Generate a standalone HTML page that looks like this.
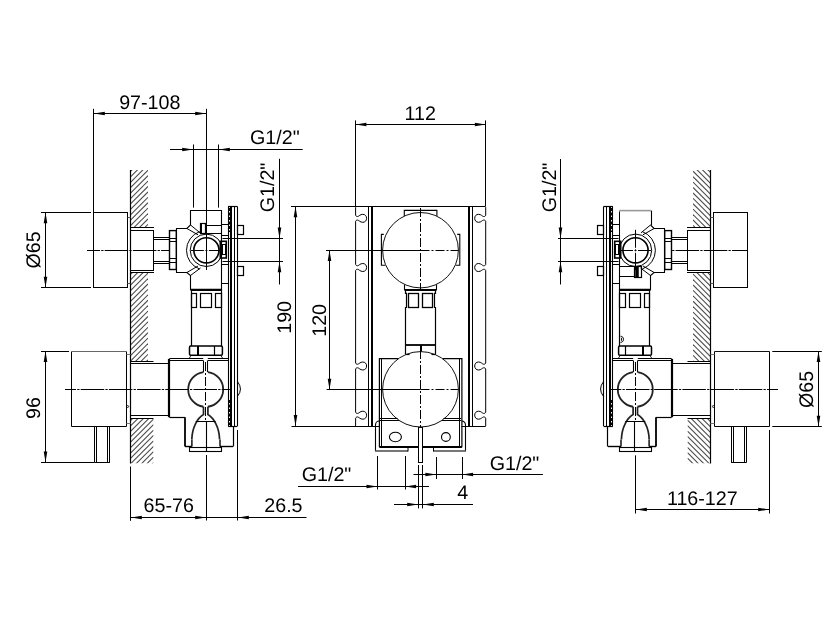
<!DOCTYPE html>
<html><head><meta charset="utf-8"><title>Drawing</title>
<style>html,body{margin:0;padding:0;background:#fff}svg{display:block;will-change:transform;opacity:.999}text{font-family:"Liberation Sans",sans-serif;fill:#000;text-rendering:geometricPrecision}</style></head><body>
<svg width="831" height="627" viewBox="0 0 831 627">
<rect width="831" height="627" fill="#fff"/>
<g id="left">
<clipPath id="hcL1"><rect x="130.5" y="170" width="17.5" height="57.6"/></clipPath>
<g clip-path="url(#hcL1)" stroke="#484848" stroke-width="1.05">
<line x1="130.5" y1="171.48" x2="148" y2="153.98"/>
<line x1="130.5" y1="176.9" x2="148" y2="159.4"/>
<line x1="130.5" y1="182.31" x2="148" y2="164.81"/>
<line x1="130.5" y1="187.73" x2="148" y2="170.23"/>
<line x1="130.5" y1="193.14" x2="148" y2="175.64"/>
<line x1="130.5" y1="198.56" x2="148" y2="181.06"/>
<line x1="130.5" y1="203.97" x2="148" y2="186.47"/>
<line x1="130.5" y1="209.39" x2="148" y2="191.89"/>
<line x1="130.5" y1="214.8" x2="148" y2="197.3"/>
<line x1="130.5" y1="220.22" x2="148" y2="202.72"/>
<line x1="130.5" y1="225.63" x2="148" y2="208.13"/>
<line x1="130.5" y1="231.05" x2="148" y2="213.55"/>
<line x1="130.5" y1="236.46" x2="148" y2="218.96"/>
<line x1="130.5" y1="241.88" x2="148" y2="224.38"/>
<line x1="130.5" y1="247.29" x2="148" y2="229.79"/>
</g>
<clipPath id="hcL2"><rect x="130.5" y="272.5" width="17.5" height="89"/></clipPath>
<g clip-path="url(#hcL2)" stroke="#484848" stroke-width="1.05">
<line x1="130.5" y1="274.37" x2="148" y2="256.87"/>
<line x1="130.5" y1="279.78" x2="148" y2="262.28"/>
<line x1="130.5" y1="285.2" x2="148" y2="267.7"/>
<line x1="130.5" y1="290.61" x2="148" y2="273.11"/>
<line x1="130.5" y1="296.03" x2="148" y2="278.53"/>
<line x1="130.5" y1="301.44" x2="148" y2="283.94"/>
<line x1="130.5" y1="306.86" x2="148" y2="289.36"/>
<line x1="130.5" y1="312.28" x2="148" y2="294.78"/>
<line x1="130.5" y1="317.69" x2="148" y2="300.19"/>
<line x1="130.5" y1="323.11" x2="148" y2="305.61"/>
<line x1="130.5" y1="328.52" x2="148" y2="311.02"/>
<line x1="130.5" y1="333.94" x2="148" y2="316.44"/>
<line x1="130.5" y1="339.35" x2="148" y2="321.85"/>
<line x1="130.5" y1="344.77" x2="148" y2="327.27"/>
<line x1="130.5" y1="350.18" x2="148" y2="332.68"/>
<line x1="130.5" y1="355.6" x2="148" y2="338.1"/>
<line x1="130.5" y1="361.01" x2="148" y2="343.51"/>
<line x1="130.5" y1="366.43" x2="148" y2="348.93"/>
<line x1="130.5" y1="371.84" x2="148" y2="354.34"/>
<line x1="130.5" y1="377.26" x2="148" y2="359.76"/>
<line x1="130.5" y1="382.67" x2="148" y2="365.17"/>
</g>
<clipPath id="hcL3"><rect x="130.5" y="418" width="23" height="45.3"/></clipPath>
<g clip-path="url(#hcL3)" stroke="#484848" stroke-width="1.05">
<line x1="130.5" y1="420.58" x2="153.5" y2="397.58"/>
<line x1="130.5" y1="425.99" x2="153.5" y2="402.99"/>
<line x1="130.5" y1="431.41" x2="153.5" y2="408.41"/>
<line x1="130.5" y1="436.82" x2="153.5" y2="413.82"/>
<line x1="130.5" y1="442.24" x2="153.5" y2="419.24"/>
<line x1="130.5" y1="447.65" x2="153.5" y2="424.65"/>
<line x1="130.5" y1="453.07" x2="153.5" y2="430.07"/>
<line x1="130.5" y1="458.48" x2="153.5" y2="435.48"/>
<line x1="130.5" y1="463.9" x2="153.5" y2="440.9"/>
<line x1="130.5" y1="469.31" x2="153.5" y2="446.31"/>
<line x1="130.5" y1="474.73" x2="153.5" y2="451.73"/>
<line x1="130.5" y1="480.14" x2="153.5" y2="457.14"/>
<line x1="130.5" y1="485.56" x2="153.5" y2="462.56"/>
<line x1="130.5" y1="490.97" x2="153.5" y2="467.97"/>
</g>
<line x1="130.5" y1="170" x2="130.5" y2="463.5" stroke="#000" stroke-width="1.2" />
<rect x="93.5" y="212.5" width="34" height="75" fill="none" stroke="#000" stroke-width="1"/>
<path d="M127.5,217.5H130.5M127.5,283.5H130.5" fill="none" stroke="#555" stroke-width="1" />
<line x1="130.5" y1="227.5" x2="154" y2="227.5" stroke="#000" stroke-width="1" />
<line x1="130.5" y1="272.5" x2="154" y2="272.5" stroke="#000" stroke-width="1" />
<rect x="130.5" y="230.5" width="23" height="40" fill="none" stroke="#000" stroke-width="1"/>
<line x1="153.5" y1="237.5" x2="169.5" y2="237.5" stroke="#000" stroke-width="1" />
<line x1="153.5" y1="239.5" x2="169.5" y2="239.5" stroke="#000" stroke-width="1" />
<line x1="153.5" y1="261.5" x2="169.5" y2="261.5" stroke="#000" stroke-width="1" />
<line x1="153.5" y1="263.5" x2="169.5" y2="263.5" stroke="#000" stroke-width="1" />
<rect x="169.5" y="230.6" width="6.8" height="38.9" fill="none" stroke="#000" stroke-width="1.4"/>
<line x1="169.5" y1="238.5" x2="176.3" y2="238.5" stroke="#000" stroke-width="1" />
<line x1="169.5" y1="241.5" x2="176.3" y2="241.5" stroke="#000" stroke-width="1" />
<line x1="169.5" y1="258.5" x2="176.3" y2="258.5" stroke="#000" stroke-width="1" />
<line x1="169.5" y1="262.5" x2="176.3" y2="262.5" stroke="#000" stroke-width="1" />
<line x1="87" y1="250.5" x2="169.5" y2="250.5" stroke="#000" stroke-width="1" stroke-dasharray="23.5 1.2 2.3 1.2" stroke-dashoffset="10.5"/>
<path d="M176.5,228.5 L186.9,228.5 L190.5,225 L190.5,210.5 L221.5,210.5 L221.5,289.4 L190.5,289.4 L190.5,275.5 L186.9,272.5 L176.5,272.5Z" fill="none" stroke="#000" stroke-width="1.1" />
<line x1="190.5" y1="290" x2="221.5" y2="290" stroke="#000" stroke-width="2" />
<line x1="190.5" y1="225" x2="200" y2="232.8" stroke="#000" stroke-width="1" />
<line x1="186.9" y1="228.5" x2="198" y2="234.8" stroke="#000" stroke-width="1" />
<line x1="186.9" y1="272.5" x2="198" y2="266" stroke="#000" stroke-width="1" />
<line x1="190.5" y1="275.5" x2="200.5" y2="268" stroke="#000" stroke-width="1" />
<circle cx="206.4" cy="250.3" r="12.6" fill="none" stroke="#000" stroke-width="1.6"/>
<circle cx="206.4" cy="250.3" r="16.2" fill="none" stroke="#000" stroke-width="1"/>
<path d="M199.6,231.6A19.9 19.9 0 0 0 199.6,269" fill="none" stroke="#000" stroke-width="1" />
<line x1="190.9" y1="250.5" x2="203.9" y2="250.5" stroke="#000" stroke-width="1" />
<line x1="205.4" y1="250.5" x2="207.4" y2="250.5" stroke="#000" stroke-width="1" />
<line x1="208.9" y1="250.5" x2="221.9" y2="250.5" stroke="#000" stroke-width="1" />
<rect x="200.5" y="223.5" width="5" height="10" fill="none" stroke="#000" stroke-width="1.2"/>
<line x1="201" y1="223.5" x2="201" y2="233.8" stroke="#000" stroke-width="2" />
<rect x="205.5" y="225.5" width="16" height="8" fill="none" stroke="#000" stroke-width="1"/>
<line x1="206.5" y1="108.8" x2="206.5" y2="270" stroke="#000" stroke-width="1" />
<rect x="221.5" y="224.5" width="7" height="11" fill="none" stroke="#000" stroke-width="1"/>
<rect x="221.5" y="264.5" width="7" height="19" fill="none" stroke="#000" stroke-width="1"/>
<rect x="220.3" y="241.3" width="6" height="16.7" fill="none" stroke="#000" stroke-width="1.6"/>
<rect x="222.5" y="244.5" width="3" height="10" fill="none" stroke="#000" stroke-width="1"/>
<line x1="228.5" y1="206.5" x2="228.5" y2="426" stroke="#000" stroke-width="1.1" />
<line x1="231" y1="206.5" x2="231" y2="426" stroke="#000" stroke-width="2" />
<line x1="234.5" y1="206.5" x2="234.5" y2="426" stroke="#000" stroke-width="1" />
<line x1="237.5" y1="206.5" x2="237.5" y2="426" stroke="#000" stroke-width="1.1" />
<line x1="228.1" y1="206.5" x2="237.4" y2="206.5" stroke="#000" stroke-width="1.2" />
<line x1="228.1" y1="426.5" x2="237.4" y2="426.5" stroke="#000" stroke-width="1.2" />
<line x1="229.5" y1="208" x2="229.5" y2="232" stroke="#000" stroke-width="1.2" stroke-dasharray="3 1.5"/>
<line x1="229.5" y1="400" x2="229.5" y2="425" stroke="#000" stroke-width="1.2" stroke-dasharray="3 1.5"/>
<rect x="237.5" y="225.5" width="6" height="9" fill="none" stroke="#000" stroke-width="1.2"/>
<rect x="237.5" y="266.5" width="6" height="9" fill="none" stroke="#000" stroke-width="1.2"/>
<line x1="222.5" y1="238.5" x2="283" y2="238.5" stroke="#000" stroke-width="1" />
<line x1="222.5" y1="261.5" x2="283" y2="261.5" stroke="#000" stroke-width="1" />
<line x1="191.5" y1="289.4" x2="191.5" y2="346" stroke="#000" stroke-width="1.2" />
<line x1="221.5" y1="289.4" x2="221.5" y2="346" stroke="#000" stroke-width="1.2" />
<rect x="191.5" y="293.5" width="5" height="14" fill="none" stroke="#000" stroke-width="1.2"/>
<rect x="200.5" y="293.5" width="11" height="14" fill="none" stroke="#000" stroke-width="1.2"/>
<rect x="215.5" y="293.5" width="6" height="14" fill="none" stroke="#000" stroke-width="1.2"/>
<rect x="189.5" y="346.1" width="32.9" height="9.2" rx="1.2" fill="none" stroke="#000" stroke-width="1.5"/>
<line x1="198" y1="346" x2="198" y2="355.4" stroke="#000" stroke-width="2" />
<line x1="214.5" y1="346" x2="214.5" y2="355.4" stroke="#000" stroke-width="1.2" />
<path d="M189.5,357.9L190.6,356.2M222.4,357.9L221.3,356.2" fill="none" stroke="#000" stroke-width="1" />
<line x1="169.4" y1="358.5" x2="203.2" y2="358.5" stroke="#000" stroke-width="1" />
<line x1="207.8" y1="358.5" x2="228.1" y2="358.5" stroke="#000" stroke-width="1" />
<line x1="169.4" y1="360.5" x2="203.2" y2="360.5" stroke="#000" stroke-width="1" />
<line x1="207.8" y1="360.5" x2="228.1" y2="360.5" stroke="#000" stroke-width="1" />
<line x1="169" y1="358.9" x2="169" y2="417.2" stroke="#000" stroke-width="2.2" />
<line x1="130.5" y1="415.5" x2="169.4" y2="415.5" stroke="#000" stroke-width="1" />
<line x1="130.5" y1="363.5" x2="169.4" y2="363.5" stroke="#000" stroke-width="1" />
<line x1="169.4" y1="417.5" x2="185" y2="417.5" stroke="#000" stroke-width="1.2" />
<line x1="185" y1="417.2" x2="185" y2="446.5" stroke="#000" stroke-width="1.8" />
<line x1="185" y1="446.5" x2="191.9" y2="446.5" stroke="#000" stroke-width="1.4" />
<line x1="191.9" y1="439.4" x2="191.9" y2="446.5" stroke="#000" stroke-width="1.4" />
<line x1="220" y1="439.4" x2="220" y2="446.5" stroke="#000" stroke-width="1.4" />
<line x1="220" y1="446.5" x2="233.1" y2="446.5" stroke="#000" stroke-width="1.4" />
<line x1="233.5" y1="426" x2="233.5" y2="446.5" stroke="#000" stroke-width="1.2" />
<rect x="189.5" y="447.5" width="32" height="4" fill="none" stroke="#000" stroke-width="1.1"/>
<path d="M191.8,439.4C192.2,427 197.7,418 203.5,414.6V406.76" fill="none" stroke="#222" stroke-width="1.7" />
<path d="M219.6,439.4C219.2,427 213.7,418 207.9,414.6V406.76" fill="none" stroke="#222" stroke-width="1.7" />
<line x1="195.7" y1="421.5" x2="215.7" y2="421.5" stroke="#000" stroke-width="1" />
<line x1="206.5" y1="421.3" x2="206.5" y2="451.9" stroke="#000" stroke-width="1.1" />
<path d="M203.5,372.04A17.5 17.5 0 0 0 203.5,406.76M207.9,372.04A17.5 17.5 0 0 1 207.9,406.76" fill="none" stroke="#222" stroke-width="1.8" />
<line x1="203.5" y1="360.5" x2="203.5" y2="372.04" stroke="#000" stroke-width="1.1" />
<line x1="207.5" y1="360.5" x2="207.5" y2="372.04" stroke="#000" stroke-width="1.1" />
<line x1="205.5" y1="362" x2="205.5" y2="420" stroke="#000" stroke-width="1" stroke-dasharray="9 2 2 2"/>
<line x1="65" y1="389.5" x2="231" y2="389.5" stroke="#000" stroke-width="1" stroke-dasharray="23.5 1.2 2.3 1.2" stroke-dashoffset="12.5"/>
<line x1="130.5" y1="361.5" x2="153.5" y2="361.5" stroke="#000" stroke-width="1" />
<line x1="130.5" y1="418.5" x2="153.5" y2="418.5" stroke="#000" stroke-width="1" />
<path d="M71.5,351.5V426.5H126.5V351.5" fill="none" stroke="#000" stroke-width="1" />
<line x1="71.5" y1="351.5" x2="126.5" y2="351.5" stroke="#666" stroke-width="1" />
<path d="M126.5,354.5H130.5M126.5,423.5H130.5" fill="none" stroke="#777" stroke-width="1" />
<circle cx="127.6" cy="406.5" r="1" fill="none" stroke="#000" stroke-width="0.8"/>
<line x1="94.5" y1="426.5" x2="94.5" y2="462.3" stroke="#000" stroke-width="1" />
<line x1="96.5" y1="426.5" x2="96.5" y2="462.3" stroke="#000" stroke-width="1" />
<line x1="107.5" y1="426.5" x2="107.5" y2="462.3" stroke="#000" stroke-width="1" />
<line x1="109.5" y1="426.5" x2="109.5" y2="462.3" stroke="#000" stroke-width="1" />
<line x1="94.3" y1="462.5" x2="109.9" y2="462.5" stroke="#000" stroke-width="1" />
<path d="M237.4,381.5Q243.5,389 237.4,396.5" fill="none" stroke="#000" stroke-width="1" />
<line x1="93.5" y1="108.8" x2="93.5" y2="212.4" stroke="#000" stroke-width="1" />
<line x1="93.4" y1="113.5" x2="206.4" y2="113.5" stroke="#000" stroke-width="1" />
<polygon points="94,113.5 104.8,111.7 104.8,115.3" fill="#000"/>
<polygon points="206,113.5 195.2,111.7 195.2,115.3" fill="#000"/>
<text x="149.8" y="108.5" text-anchor="middle" font-size="19.7">97-108</text>
<line x1="193.5" y1="144.5" x2="193.5" y2="207.6" stroke="#000" stroke-width="1" />
<line x1="218.5" y1="144.5" x2="218.5" y2="207.6" stroke="#000" stroke-width="1" />
<line x1="170" y1="149.5" x2="302.7" y2="149.5" stroke="#000" stroke-width="1" />
<polygon points="193,149.5 182.2,147.7 182.2,151.3" fill="#000"/>
<polygon points="219,149.5 229.8,147.7 229.8,151.3" fill="#000"/>
<text x="274.8" y="143.8" text-anchor="middle" font-size="19.7">G1/2&quot;</text>
<line x1="279.5" y1="158.8" x2="279.5" y2="261.4" stroke="#000" stroke-width="1" />
<polygon points="279.5,238.4 277.7,227.6 281.3,227.6" fill="#000"/>
<line x1="279.5" y1="261.4" x2="279.5" y2="284.5" stroke="#000" stroke-width="1" />
<polygon points="279.5,261.4 277.7,272.2 281.3,272.2" fill="#000"/>
<text transform="translate(274.4,187.5) rotate(-90)" text-anchor="middle" font-size="19.7">G1/2&quot;</text>
<line x1="41" y1="212.5" x2="91" y2="212.5" stroke="#000" stroke-width="1" />
<line x1="41" y1="287.5" x2="91" y2="287.5" stroke="#000" stroke-width="1" />
<line x1="45.5" y1="212.4" x2="45.5" y2="287.5" stroke="#000" stroke-width="1" />
<polygon points="45.5,212.4 43.7,223.2 47.3,223.2" fill="#000"/>
<polygon points="45.5,287.5 43.7,276.7 47.3,276.7" fill="#000"/>
<text transform="translate(40,250) rotate(-90)" text-anchor="middle" font-size="19.7">Ø65</text>
<line x1="41" y1="351.5" x2="69" y2="351.5" stroke="#000" stroke-width="1" />
<line x1="41" y1="462.5" x2="94.3" y2="462.5" stroke="#000" stroke-width="1" />
<line x1="45.5" y1="351.2" x2="45.5" y2="462.3" stroke="#000" stroke-width="1" />
<polygon points="45.5,351.2 43.7,362 47.3,362" fill="#000"/>
<polygon points="45.5,462.3 43.7,451.5 47.3,451.5" fill="#000"/>
<text transform="translate(40,408) rotate(-90)" text-anchor="middle" font-size="19.7">96</text>
<line x1="130.5" y1="466.5" x2="130.5" y2="520.8" stroke="#000" stroke-width="1" />
<line x1="206.5" y1="455" x2="206.5" y2="520.5" stroke="#000" stroke-width="1" />
<line x1="237.5" y1="430" x2="237.5" y2="520.5" stroke="#000" stroke-width="1" />
<line x1="130.5" y1="517.5" x2="306.5" y2="517.5" stroke="#000" stroke-width="1" />
<polygon points="131,517.5 141.8,515.7 141.8,519.3" fill="#000"/>
<polygon points="206,517.5 195.2,515.7 195.2,519.3" fill="#000"/>
<polygon points="238,517.5 248.8,515.7 248.8,519.3" fill="#000"/>
<text x="168.7" y="511.9" text-anchor="middle" font-size="19.7">65-76</text>
<text x="283.4" y="511.9" text-anchor="middle" font-size="19.7">26.5</text>
</g>
<g id="centre">
<line x1="355.5" y1="120.4" x2="355.5" y2="206.4" stroke="#000" stroke-width="1" />
<line x1="485.5" y1="120.4" x2="485.5" y2="206.4" stroke="#000" stroke-width="1" />
<line x1="355.6" y1="124.5" x2="485.7" y2="124.5" stroke="#000" stroke-width="1" />
<polygon points="355.6,124.5 366.4,122.7 366.4,126.3" fill="#000"/>
<polygon points="485.7,124.5 474.9,122.7 474.9,126.3" fill="#000"/>
<text x="420.3" y="120" text-anchor="middle" font-size="19.7">112</text>
<path d="M356.6,206.4Q355.6,206.4 355.6,207.6L355.6,215.3C355.9,216.4 357.1,216.6 357.8,216.5C359.1,216.3 360.1,214.3 362.8,214.3C365.1,214.3 366.6,216 366.6,218.3C366.6,220.6 365.1,222.3 362.8,222.3C360.1,222.3 359.1,220.3 357.8,220.1C357.1,220 355.9,220.2 355.6,221.3L355.6,264.5C355.9,265.6 357.1,265.8 357.8,265.7C359.1,265.5 360.1,263.5 362.8,263.5C365.1,263.5 366.6,265.2 366.6,267.5C366.6,269.8 365.1,271.5 362.8,271.5C360.1,271.5 359.1,269.5 357.8,269.3C357.1,269.2 355.9,269.4 355.6,270.5L355.6,363C355.9,364.1 357.1,364.3 357.8,364.2C359.1,364 360.1,362 362.8,362C365.1,362 366.6,363.7 366.6,366C366.6,368.3 365.1,370 362.8,370C360.1,370 359.1,368 357.8,367.8C357.1,367.7 355.9,367.9 355.6,369L355.6,412.2C355.9,413.3 357.1,413.5 357.8,413.4C359.1,413.2 360.1,411.2 362.8,411.2C365.1,411.2 366.6,412.9 366.6,415.2C366.6,417.5 365.1,419.2 362.8,419.2C360.1,419.2 359.1,417.2 357.8,417C357.1,416.9 355.9,417.1 355.6,418.2L355.6,426" fill="none" stroke="#000" stroke-width="1" />
<path d="M484.7,206.4Q485.7,206.4 485.7,207.6L485.7,215.3C485.4,216.4 484.2,216.6 483.5,216.5C482.2,216.3 481.2,214.3 478.5,214.3C476.2,214.3 474.7,216 474.7,218.3C474.7,220.6 476.2,222.3 478.5,222.3C481.2,222.3 482.2,220.3 483.5,220.1C484.2,220 485.4,220.2 485.7,221.3L485.7,264.5C485.4,265.6 484.2,265.8 483.5,265.7C482.2,265.5 481.2,263.5 478.5,263.5C476.2,263.5 474.7,265.2 474.7,267.5C474.7,269.8 476.2,271.5 478.5,271.5C481.2,271.5 482.2,269.5 483.5,269.3C484.2,269.2 485.4,269.4 485.7,270.5L485.7,363C485.4,364.1 484.2,364.3 483.5,364.2C482.2,364 481.2,362 478.5,362C476.2,362 474.7,363.7 474.7,366C474.7,368.3 476.2,370 478.5,370C481.2,370 482.2,368 483.5,367.8C484.2,367.7 485.4,367.9 485.7,369L485.7,412.2C485.4,413.3 484.2,413.5 483.5,413.4C482.2,413.2 481.2,411.2 478.5,411.2C476.2,411.2 474.7,412.9 474.7,415.2C474.7,417.5 476.2,419.2 478.5,419.2C481.2,419.2 482.2,417.2 483.5,417C484.2,416.9 485.4,417.1 485.7,418.2L485.7,426" fill="none" stroke="#000" stroke-width="1" />
<line x1="291" y1="206.5" x2="485" y2="206.5" stroke="#000" stroke-width="1" />
<line x1="291.5" y1="426.5" x2="375.5" y2="426.5" stroke="#000" stroke-width="1" />
<line x1="465.5" y1="426.5" x2="485.7" y2="426.5" stroke="#000" stroke-width="1" />
<line x1="368.5" y1="206.4" x2="368.5" y2="426" stroke="#000" stroke-width="1" />
<line x1="372" y1="206.4" x2="372" y2="426" stroke="#000" stroke-width="2" />
<line x1="469" y1="206.4" x2="469" y2="426" stroke="#000" stroke-width="2" />
<line x1="472.5" y1="206.4" x2="472.5" y2="426" stroke="#000" stroke-width="1" />
<ellipse cx="420.5" cy="250.2" rx="37.9" ry="37.7" fill="none" stroke="#111" stroke-width="1"/>
<path d="M404.3,216V210.4H436.9V216" fill="none" stroke="#000" stroke-width="1.1" />
<path d="M404.5,284.5V290M436.5,290V284.5" fill="none" stroke="#000" stroke-width="1.1" />
<path d="M383.8,234.4H381.4V265.3H385.3" fill="none" stroke="#000" stroke-width="1.1" />
<path d="M457.2,234.4H459.8V265.3H455.7" fill="none" stroke="#000" stroke-width="1.1" />
<line x1="420.5" y1="208" x2="420.5" y2="290" stroke="#000" stroke-width="1" stroke-dasharray="9 2 2 2"/>
<line x1="326" y1="250.5" x2="420.5" y2="250.5" stroke="#000" stroke-width="1" />
<line x1="420.5" y1="250.5" x2="458.5" y2="250.5" stroke="#000" stroke-width="1" stroke-dasharray="9 2 2 2"/>
<line x1="404.5" y1="290" x2="436.5" y2="290" stroke="#000" stroke-width="2" />
<path d="M405.5,290V293.3H406.5V307.5H405.5V354M435.5,290V293.3H434.5V307.5H435.5V354" fill="none" stroke="#000" stroke-width="1.2" />
<rect x="408.5" y="293.5" width="10" height="14" fill="none" stroke="#000" stroke-width="1.3"/>
<rect x="422.5" y="293.5" width="10" height="14" fill="none" stroke="#000" stroke-width="1.3"/>
<line x1="405.5" y1="345" x2="435.5" y2="345" stroke="#000" stroke-width="1.8" />
<line x1="405.5" y1="354.5" x2="409.5" y2="354.5" stroke="#000" stroke-width="1.2" />
<line x1="431.5" y1="354.5" x2="435.5" y2="354.5" stroke="#000" stroke-width="1.2" />
<line x1="420.5" y1="345.2" x2="420.5" y2="351.6" stroke="#000" stroke-width="1" />
<line x1="421.5" y1="345.2" x2="421.5" y2="351.6" stroke="#000" stroke-width="1" />
<path d="M398.4,358.6H379.4V423" fill="none" stroke="#000" stroke-width="1.2" />
<path d="M442.6,358.6H461.9V423" fill="none" stroke="#000" stroke-width="1.2" />
<line x1="381.5" y1="358.6" x2="381.5" y2="447" stroke="#000" stroke-width="1" />
<line x1="459.5" y1="358.6" x2="459.5" y2="447" stroke="#000" stroke-width="1" />
<ellipse cx="420.5" cy="389.3" rx="37.9" ry="37.7" fill="none" stroke="#111" stroke-width="1"/>
<line x1="380" y1="418.5" x2="397.5" y2="418.5" stroke="#000" stroke-width="1" />
<line x1="380" y1="420.5" x2="399.5" y2="420.5" stroke="#000" stroke-width="1" />
<line x1="443.5" y1="418.5" x2="461" y2="418.5" stroke="#000" stroke-width="1" />
<line x1="441.5" y1="420.5" x2="461" y2="420.5" stroke="#000" stroke-width="1" />
<line x1="326.6" y1="389.5" x2="420.5" y2="389.5" stroke="#000" stroke-width="1" />
<line x1="420.5" y1="389.5" x2="458.5" y2="389.5" stroke="#000" stroke-width="1" stroke-dasharray="9 2 2 2"/>
<line x1="420.5" y1="350" x2="420.5" y2="427.5" stroke="#000" stroke-width="1" stroke-dasharray="9 2 2 2"/>
<path d="M375.5,451.5V425A3.8 4 0 0 1 379.3,421M461.7,421A3.8 4 0 0 1 465.5,425V451.5" fill="none" stroke="#000" stroke-width="1.1" />
<line x1="375.5" y1="451" x2="408" y2="451" stroke="#777" stroke-width="1.8" />
<line x1="433.5" y1="451" x2="465.5" y2="451" stroke="#777" stroke-width="1.8" />
<line x1="375.5" y1="426.5" x2="379.5" y2="426.5" stroke="#000" stroke-width="1" />
<line x1="461.5" y1="426.5" x2="465.5" y2="426.5" stroke="#000" stroke-width="1" />
<path d="M408,451.5V447.2M433.5,451.5V447.2" fill="none" stroke="#000" stroke-width="1" />
<path d="M379.4,423V447.2M461.9,447.2V423" fill="none" stroke="#000" stroke-width="1.2" />
<line x1="379.4" y1="447" x2="461.9" y2="447" stroke="#000" stroke-width="1.8" />
<ellipse cx="395.4" cy="437" rx="6" ry="4.7" fill="none" stroke="#000" stroke-width="1.1"/>
<circle cx="445.9" cy="437" r="4.4" fill="none" stroke="#000" stroke-width="1.1"/>
<rect x="418.5" y="427.5" width="4" height="35" fill="#fff" stroke="#000" stroke-width="1"/>
<line x1="377.5" y1="456" x2="377.5" y2="489.5" stroke="#000" stroke-width="1" />
<line x1="405.5" y1="456" x2="405.5" y2="489.5" stroke="#000" stroke-width="1" />
<line x1="436.5" y1="457" x2="436.5" y2="479" stroke="#000" stroke-width="1" />
<line x1="462.5" y1="457" x2="462.5" y2="479" stroke="#000" stroke-width="1" />
<line x1="413.5" y1="474.5" x2="542.9" y2="474.5" stroke="#000" stroke-width="1" />
<polygon points="436.2,474.5 425.4,472.7 425.4,476.3" fill="#000"/>
<polygon points="462.3,474.5 473.1,472.7 473.1,476.3" fill="#000"/>
<text x="514.5" y="469.5" text-anchor="middle" font-size="19.7">G1/2&quot;</text>
<line x1="298" y1="486.5" x2="429" y2="486.5" stroke="#000" stroke-width="1" />
<polygon points="377.3,486.5 366.5,484.7 366.5,488.3" fill="#000"/>
<polygon points="405.3,486.5 416.1,484.7 416.1,488.3" fill="#000"/>
<text x="326.5" y="481" text-anchor="middle" font-size="19.7">G1/2&quot;</text>
<line x1="418.5" y1="465" x2="418.5" y2="508.4" stroke="#000" stroke-width="1" />
<line x1="422.5" y1="465" x2="422.5" y2="508.4" stroke="#000" stroke-width="1" />
<line x1="394" y1="504.5" x2="473" y2="504.5" stroke="#000" stroke-width="1" />
<polygon points="418,504.5 407.2,502.7 407.2,506.3" fill="#000"/>
<polygon points="423,504.5 433.8,502.7 433.8,506.3" fill="#000"/>
<text x="462.7" y="499.4" text-anchor="middle" font-size="19.7">4</text>
<line x1="291" y1="206.5" x2="356" y2="206.5" stroke="#000" stroke-width="1" />
<line x1="295.5" y1="206.4" x2="295.5" y2="425.9" stroke="#000" stroke-width="1" />
<polygon points="295.5,206.4 293.7,217.2 297.3,217.2" fill="#000"/>
<polygon points="295.5,425.9 293.7,415.1 297.3,415.1" fill="#000"/>
<text transform="translate(290.5,317.4) rotate(-90)" text-anchor="middle" font-size="19.7">190</text>
<line x1="329.5" y1="250.3" x2="329.5" y2="389.5" stroke="#000" stroke-width="1" />
<polygon points="329.5,250.3 327.7,261.1 331.3,261.1" fill="#000"/>
<polygon points="329.5,389.5 327.7,378.7 331.3,378.7" fill="#000"/>
<text transform="translate(325.5,320.4) rotate(-90)" text-anchor="middle" font-size="19.7">120</text>
</g>
<g id="right">
<clipPath id="hcR1"><rect x="693" y="170" width="17.5" height="57.6"/></clipPath>
<g clip-path="url(#hcR1)" stroke="#484848" stroke-width="1.05">
<line x1="710.5" y1="172.48" x2="693" y2="154.98"/>
<line x1="710.5" y1="177.9" x2="693" y2="160.4"/>
<line x1="710.5" y1="183.31" x2="693" y2="165.81"/>
<line x1="710.5" y1="188.73" x2="693" y2="171.23"/>
<line x1="710.5" y1="194.14" x2="693" y2="176.64"/>
<line x1="710.5" y1="199.56" x2="693" y2="182.06"/>
<line x1="710.5" y1="204.97" x2="693" y2="187.47"/>
<line x1="710.5" y1="210.39" x2="693" y2="192.89"/>
<line x1="710.5" y1="215.8" x2="693" y2="198.3"/>
<line x1="710.5" y1="221.22" x2="693" y2="203.72"/>
<line x1="710.5" y1="226.63" x2="693" y2="209.13"/>
<line x1="710.5" y1="232.05" x2="693" y2="214.55"/>
<line x1="710.5" y1="237.46" x2="693" y2="219.96"/>
<line x1="710.5" y1="242.88" x2="693" y2="225.38"/>
<line x1="710.5" y1="248.29" x2="693" y2="230.79"/>
</g>
<clipPath id="hcR2"><rect x="693" y="272.5" width="17.5" height="89"/></clipPath>
<g clip-path="url(#hcR2)" stroke="#484848" stroke-width="1.05">
<line x1="710.5" y1="275.37" x2="693" y2="257.87"/>
<line x1="710.5" y1="280.78" x2="693" y2="263.28"/>
<line x1="710.5" y1="286.2" x2="693" y2="268.7"/>
<line x1="710.5" y1="291.61" x2="693" y2="274.11"/>
<line x1="710.5" y1="297.03" x2="693" y2="279.53"/>
<line x1="710.5" y1="302.44" x2="693" y2="284.94"/>
<line x1="710.5" y1="307.86" x2="693" y2="290.36"/>
<line x1="710.5" y1="313.28" x2="693" y2="295.78"/>
<line x1="710.5" y1="318.69" x2="693" y2="301.19"/>
<line x1="710.5" y1="324.11" x2="693" y2="306.61"/>
<line x1="710.5" y1="329.52" x2="693" y2="312.02"/>
<line x1="710.5" y1="334.94" x2="693" y2="317.44"/>
<line x1="710.5" y1="340.35" x2="693" y2="322.85"/>
<line x1="710.5" y1="345.77" x2="693" y2="328.27"/>
<line x1="710.5" y1="351.18" x2="693" y2="333.68"/>
<line x1="710.5" y1="356.6" x2="693" y2="339.1"/>
<line x1="710.5" y1="362.01" x2="693" y2="344.51"/>
<line x1="710.5" y1="367.43" x2="693" y2="349.93"/>
<line x1="710.5" y1="372.84" x2="693" y2="355.34"/>
<line x1="710.5" y1="378.26" x2="693" y2="360.76"/>
<line x1="710.5" y1="383.67" x2="693" y2="366.17"/>
</g>
<clipPath id="hcR3"><rect x="687.5" y="418" width="23" height="45.3"/></clipPath>
<g clip-path="url(#hcR3)" stroke="#484848" stroke-width="1.05">
<line x1="710.5" y1="421.58" x2="687.5" y2="398.58"/>
<line x1="710.5" y1="426.99" x2="687.5" y2="403.99"/>
<line x1="710.5" y1="432.41" x2="687.5" y2="409.41"/>
<line x1="710.5" y1="437.82" x2="687.5" y2="414.82"/>
<line x1="710.5" y1="443.24" x2="687.5" y2="420.24"/>
<line x1="710.5" y1="448.65" x2="687.5" y2="425.65"/>
<line x1="710.5" y1="454.07" x2="687.5" y2="431.07"/>
<line x1="710.5" y1="459.48" x2="687.5" y2="436.48"/>
<line x1="710.5" y1="464.9" x2="687.5" y2="441.9"/>
<line x1="710.5" y1="470.31" x2="687.5" y2="447.31"/>
<line x1="710.5" y1="475.73" x2="687.5" y2="452.73"/>
<line x1="710.5" y1="481.14" x2="687.5" y2="458.14"/>
<line x1="710.5" y1="486.56" x2="687.5" y2="463.56"/>
</g>
<line x1="710.5" y1="170" x2="710.5" y2="463.5" stroke="#000" stroke-width="1.2" />
<rect x="713.5" y="212.5" width="34" height="75" fill="none" stroke="#000" stroke-width="1"/>
<path d="M713.5,217.5H710.5M713.5,283.5H710.5" fill="none" stroke="#555" stroke-width="1" />
<line x1="710.5" y1="227.5" x2="687" y2="227.5" stroke="#000" stroke-width="1" />
<line x1="710.5" y1="272.5" x2="687" y2="272.5" stroke="#000" stroke-width="1" />
<rect x="687.5" y="230.5" width="23" height="40" fill="none" stroke="#000" stroke-width="1"/>
<line x1="687.5" y1="237.5" x2="671.5" y2="237.5" stroke="#000" stroke-width="1" />
<line x1="687.5" y1="239.5" x2="671.5" y2="239.5" stroke="#000" stroke-width="1" />
<line x1="687.5" y1="261.5" x2="671.5" y2="261.5" stroke="#000" stroke-width="1" />
<line x1="687.5" y1="263.5" x2="671.5" y2="263.5" stroke="#000" stroke-width="1" />
<rect x="664.7" y="230.6" width="6.8" height="38.9" fill="none" stroke="#000" stroke-width="1.4"/>
<line x1="671.5" y1="238.5" x2="664.7" y2="238.5" stroke="#000" stroke-width="1" />
<line x1="671.5" y1="241.5" x2="664.7" y2="241.5" stroke="#000" stroke-width="1" />
<line x1="671.5" y1="258.5" x2="664.7" y2="258.5" stroke="#000" stroke-width="1" />
<line x1="671.5" y1="262.5" x2="664.7" y2="262.5" stroke="#000" stroke-width="1" />
<line x1="747.6" y1="250.5" x2="671.5" y2="250.5" stroke="#000" stroke-width="1" stroke-dasharray="23.5 1.2 2.3 1.2" stroke-dashoffset="7.9"/>
<path d="M650.5,225 L654.1,228.5 L664.5,228.5 L664.5,272.5 L654.1,272.5 L650.5,275.5 L650.5,289.4 L619.5,289.4 L619.5,235" fill="none" stroke="#000" stroke-width="1.1" />
<line x1="651" y1="210.6" x2="619.1" y2="210.6" stroke="#999" stroke-width="1.6" />
<line x1="651.5" y1="210.6" x2="651.5" y2="225" stroke="#000" stroke-width="1.1" />
<line x1="619.5" y1="211.5" x2="619.5" y2="236" stroke="#000" stroke-width="1" />
<line x1="650.5" y1="290" x2="619.5" y2="290" stroke="#000" stroke-width="2" />
<line x1="650.5" y1="225" x2="641" y2="232.8" stroke="#000" stroke-width="1" />
<line x1="654.1" y1="228.5" x2="643" y2="234.8" stroke="#000" stroke-width="1" />
<line x1="654.1" y1="272.5" x2="643" y2="266" stroke="#000" stroke-width="1" />
<line x1="650.5" y1="275.5" x2="640.5" y2="268" stroke="#000" stroke-width="1" />
<circle cx="635.5" cy="250.3" r="12.6" fill="none" stroke="#000" stroke-width="1.6"/>
<circle cx="635.5" cy="250.3" r="16.2" fill="none" stroke="#000" stroke-width="1"/>
<path d="M642.3,231.6A19.9 19.9 0 0 1 642.3,269" fill="none" stroke="#000" stroke-width="1" />
<line x1="620" y1="250.5" x2="633" y2="250.5" stroke="#000" stroke-width="1" />
<line x1="634.5" y1="250.5" x2="636.5" y2="250.5" stroke="#000" stroke-width="1" />
<line x1="638" y1="250.5" x2="651" y2="250.5" stroke="#000" stroke-width="1" />
<rect x="634.5" y="266.5" width="7" height="11" fill="none" stroke="#000" stroke-width="1.2"/>
<line x1="637" y1="266.3" x2="637" y2="277.5" stroke="#000" stroke-width="3.5" />
<rect x="619.5" y="266.5" width="15" height="10" fill="none" stroke="#000" stroke-width="1"/>
<line x1="635.5" y1="229.8" x2="635.5" y2="247.8" stroke="#000" stroke-width="1" />
<line x1="635.5" y1="249.3" x2="635.5" y2="251.3" stroke="#000" stroke-width="1" />
<line x1="635.5" y1="252.8" x2="635.5" y2="270" stroke="#000" stroke-width="1" />
<rect x="612.5" y="224.5" width="7" height="11" fill="none" stroke="#000" stroke-width="1"/>
<rect x="612.5" y="264.5" width="7" height="19" fill="none" stroke="#000" stroke-width="1"/>
<rect x="614.7" y="241.3" width="6" height="16.7" fill="none" stroke="#000" stroke-width="1.6"/>
<rect x="615.5" y="244.5" width="3" height="10" fill="none" stroke="#000" stroke-width="1"/>
<line x1="612.5" y1="206.5" x2="612.5" y2="426" stroke="#000" stroke-width="1.1" />
<line x1="610" y1="206.5" x2="610" y2="426" stroke="#000" stroke-width="2" />
<line x1="606.5" y1="206.5" x2="606.5" y2="426" stroke="#000" stroke-width="1" />
<line x1="603.5" y1="206.5" x2="603.5" y2="426" stroke="#000" stroke-width="1.1" />
<line x1="612.9" y1="206.5" x2="603.6" y2="206.5" stroke="#000" stroke-width="1.2" />
<line x1="612.9" y1="426.5" x2="603.6" y2="426.5" stroke="#000" stroke-width="1.2" />
<line x1="611.5" y1="208" x2="611.5" y2="232" stroke="#000" stroke-width="1.2" stroke-dasharray="3 1.5"/>
<line x1="611.5" y1="400" x2="611.5" y2="425" stroke="#000" stroke-width="1.2" stroke-dasharray="3 1.5"/>
<rect x="597.5" y="225.5" width="6" height="9" fill="none" stroke="#000" stroke-width="1.2"/>
<rect x="597.5" y="266.5" width="6" height="9" fill="none" stroke="#000" stroke-width="1.2"/>
<line x1="618.5" y1="238.5" x2="558" y2="238.5" stroke="#000" stroke-width="1" />
<line x1="618.5" y1="261.5" x2="558" y2="261.5" stroke="#000" stroke-width="1" />
<line x1="649.5" y1="289.4" x2="649.5" y2="346" stroke="#000" stroke-width="1.2" />
<line x1="619.5" y1="289.4" x2="619.5" y2="346" stroke="#000" stroke-width="1.2" />
<rect x="644.5" y="293.5" width="5" height="14" fill="none" stroke="#000" stroke-width="1.2"/>
<rect x="629.5" y="293.5" width="11" height="14" fill="none" stroke="#000" stroke-width="1.2"/>
<rect x="619.5" y="293.5" width="6" height="14" fill="none" stroke="#000" stroke-width="1.2"/>
<rect x="618.6" y="346.1" width="32.9" height="9.2" rx="1.2" fill="none" stroke="#000" stroke-width="1.5"/>
<line x1="643" y1="346" x2="643" y2="355.4" stroke="#000" stroke-width="2" />
<line x1="625.5" y1="346" x2="625.5" y2="355.4" stroke="#000" stroke-width="1.2" />
<path d="M651.5,357.9L650.4,356.2M618.6,357.9L619.7,356.2" fill="none" stroke="#000" stroke-width="1" />
<line x1="671.6" y1="358.5" x2="637.8" y2="358.5" stroke="#000" stroke-width="1" />
<line x1="633.2" y1="358.5" x2="612.9" y2="358.5" stroke="#000" stroke-width="1" />
<line x1="671.6" y1="360.5" x2="637.8" y2="360.5" stroke="#000" stroke-width="1" />
<line x1="633.2" y1="360.5" x2="612.9" y2="360.5" stroke="#000" stroke-width="1" />
<line x1="672" y1="358.9" x2="672" y2="417.2" stroke="#000" stroke-width="2.2" />
<line x1="710.5" y1="415.5" x2="671.6" y2="415.5" stroke="#000" stroke-width="1" />
<line x1="710.5" y1="363.5" x2="671.6" y2="363.5" stroke="#000" stroke-width="1" />
<line x1="671.6" y1="417.5" x2="656" y2="417.5" stroke="#000" stroke-width="1.2" />
<line x1="656" y1="417.2" x2="656" y2="446.5" stroke="#000" stroke-width="1.8" />
<line x1="656" y1="446.5" x2="649.1" y2="446.5" stroke="#000" stroke-width="1.4" />
<line x1="649.1" y1="439.4" x2="649.1" y2="446.5" stroke="#000" stroke-width="1.4" />
<line x1="621" y1="439.4" x2="621" y2="446.5" stroke="#000" stroke-width="1.4" />
<line x1="621" y1="446.5" x2="607.9" y2="446.5" stroke="#000" stroke-width="1.4" />
<line x1="607.5" y1="426" x2="607.5" y2="446.5" stroke="#000" stroke-width="1.2" />
<rect x="619.5" y="447.5" width="32" height="4" fill="none" stroke="#000" stroke-width="1.1"/>
<path d="M621.4,439.4C621.8,427 627.3,418 633.1,414.6V406.76" fill="none" stroke="#222" stroke-width="1.7" />
<path d="M649.2,439.4C648.8,427 643.3,418 637.5,414.6V406.76" fill="none" stroke="#222" stroke-width="1.7" />
<line x1="625.3" y1="421.5" x2="645.3" y2="421.5" stroke="#000" stroke-width="1" />
<line x1="634.5" y1="421.3" x2="634.5" y2="451.9" stroke="#000" stroke-width="1.1" />
<path d="M633.1,372.04A17.5 17.5 0 0 0 633.1,406.76M637.5,372.04A17.5 17.5 0 0 1 637.5,406.76" fill="none" stroke="#222" stroke-width="1.8" />
<line x1="633.5" y1="360.5" x2="633.5" y2="372.04" stroke="#000" stroke-width="1.1" />
<line x1="637.5" y1="360.5" x2="637.5" y2="372.04" stroke="#000" stroke-width="1.1" />
<line x1="635.5" y1="362" x2="635.5" y2="420" stroke="#000" stroke-width="1" stroke-dasharray="9 2 2 2"/>
<line x1="778" y1="389.5" x2="610" y2="389.5" stroke="#000" stroke-width="1" stroke-dasharray="23.5 1.2 2.3 1.2" stroke-dashoffset="12.5"/>
<line x1="710.5" y1="361.5" x2="687.5" y2="361.5" stroke="#000" stroke-width="1" />
<line x1="710.5" y1="418.5" x2="687.5" y2="418.5" stroke="#000" stroke-width="1" />
<path d="M769.5,351.5V426.5H714.5V351.5" fill="none" stroke="#000" stroke-width="1" />
<line x1="769.5" y1="351.5" x2="714.5" y2="351.5" stroke="#111" stroke-width="1" />
<path d="M714.5,354.5H710.5M714.5,423.5H710.5" fill="none" stroke="#777" stroke-width="1" />
<circle cx="713.4" cy="406.5" r="1" fill="none" stroke="#000" stroke-width="0.8"/>
<line x1="746.5" y1="426.5" x2="746.5" y2="462.3" stroke="#000" stroke-width="1" />
<line x1="744.5" y1="426.5" x2="744.5" y2="462.3" stroke="#000" stroke-width="1" />
<line x1="733.5" y1="426.5" x2="733.5" y2="462.3" stroke="#000" stroke-width="1" />
<line x1="731.5" y1="426.5" x2="731.5" y2="462.3" stroke="#000" stroke-width="1" />
<line x1="746.7" y1="462.5" x2="731.1" y2="462.5" stroke="#000" stroke-width="1" />
<path d="M620.5,336.2C624.6,336.4 624.6,342.2 620.5,342.4M621.6,337.8V340.8" fill="none" stroke="#000" stroke-width="1" />
<path d="M603.6,381.5Q597.5,389 603.6,396.5" fill="none" stroke="#000" stroke-width="1" />
<line x1="635.5" y1="455.4" x2="635.5" y2="513.5" stroke="#000" stroke-width="1" />
<line x1="769.5" y1="430" x2="769.5" y2="513.5" stroke="#000" stroke-width="1" />
<line x1="635.5" y1="509.5" x2="769.6" y2="509.5" stroke="#000" stroke-width="1" />
<polygon points="636,509.5 646.8,507.7 646.8,511.3" fill="#000"/>
<polygon points="769,509.5 758.2,507.7 758.2,511.3" fill="#000"/>
<text x="702.3" y="505" text-anchor="middle" font-size="19.7">116-127</text>
<line x1="772.3" y1="351.5" x2="821.8" y2="351.5" stroke="#000" stroke-width="1" />
<line x1="772.3" y1="426.5" x2="821.8" y2="426.5" stroke="#000" stroke-width="1" />
<line x1="818.5" y1="351.2" x2="818.5" y2="426.5" stroke="#000" stroke-width="1" />
<polygon points="818.5,351.2 816.7,362 820.3,362" fill="#000"/>
<polygon points="818.5,426.5 816.7,415.7 820.3,415.7" fill="#000"/>
<text transform="translate(813.1,389.5) rotate(-90)" text-anchor="middle" font-size="19.7">Ø65</text>
<line x1="560.5" y1="159" x2="560.5" y2="261.4" stroke="#000" stroke-width="1" />
<polygon points="560.5,238.4 558.7,227.6 562.3,227.6" fill="#000"/>
<line x1="560.5" y1="261.4" x2="560.5" y2="284.5" stroke="#000" stroke-width="1" />
<polygon points="560.5,261.4 558.7,272.2 562.3,272.2" fill="#000"/>
<text transform="translate(555.7,187.5) rotate(-90)" text-anchor="middle" font-size="19.7">G1/2&quot;</text>
</g>
</svg></body></html>
